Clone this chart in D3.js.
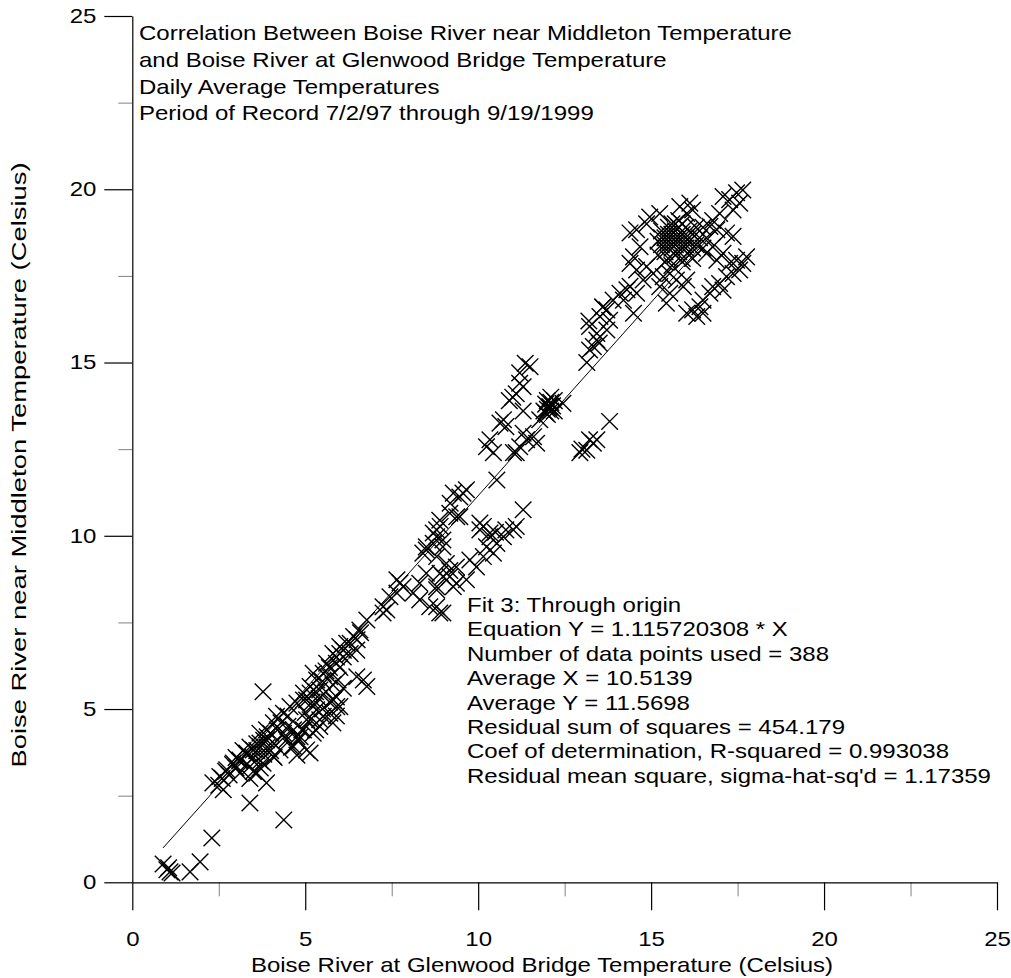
<!DOCTYPE html>
<html><head><meta charset="utf-8">
<script src="https://cdn.jsdelivr.net/npm/d3@7"></script>
<style>
body{margin:0;background:#fff}
text{font-family:"Liberation Sans",Arial,sans-serif;fill:#000}
</style>
</head><body>
<svg id="chart" width="1011" height="978"></svg>
<script>
// ---------- text ----------
const titleLines = [
  "Correlation Between Boise River near Middleton Temperature",
  "and Boise River at Glenwood Bridge Temperature",
  "Daily Average Temperatures",
  "Period of Record 7/2/97 through 9/19/1999"
];
const fitLines = [
  "Fit 3: Through origin",
  "Equation Y = 1.115720308 * X",
  "Number of data points used = 388",
  "Average X = 10.5139",
  "Average Y = 11.5698",
  "Residual sum of squares = 454.179",
  "Coef of determination, R-squared = 0.993038",
  "Residual mean square, sigma-hat-sq'd = 1.17359"
];
const xTitle = "Boise River at Glenwood Bridge Temperature (Celsius)";
const yTitle = "Boise River near Middleton Temperature (Celsius)";

// ---------- axes ----------
const majorTicks = [0, 5, 10, 15, 20, 25];
const minorTicks = [2.5, 7.5, 12.5, 17.5, 22.5];
const fitSlope = 1.115720308;

// ---------- observations [Glenwood X, Middleton Y] ----------
const lowRange = [
  [0.89,0.53],[1.0,0.36],[1.09,0.30],[1.15,0.27],[1.05,0.42],[1.67,0.30],[1.96,0.59],[2.30,1.28],
  [3.40,2.29],[4.38,1.80],[3.78,5.50],
  [2.33,2.87],[2.63,2.67],[2.53,3.05],[2.73,3.25],[2.92,3.44],[3.11,3.53],[3.31,3.73],[3.50,3.82],
  [3.69,4.02],[3.88,4.11],[3.11,3.15],[3.40,3.34],[3.60,3.15],[3.88,2.87],[3.78,3.44],[4.08,3.63],
  [4.27,3.82],[4.46,4.11],[4.66,3.92],[4.85,4.20],[4.66,4.40],[4.76,3.67],
  [2.5,2.8],[2.6,3.0],[2.7,3.2],[2.8,3.1],[2.9,3.4],[3.0,3.3],[3.0,3.6],[3.1,3.5],[3.2,3.8],
  [3.3,3.4],[3.3,3.7],[3.4,3.9],[3.5,3.6],[3.5,3.2],[3.6,3.8],[3.6,4.0],[3.7,3.5],[3.7,3.9],
  [3.8,4.1],[3.8,3.7],[3.9,3.9],[3.9,4.2],[4.0,3.8],[4.0,4.3],[4.1,4.0],[4.2,4.4],[4.3,4.6],
  [4.4,4.2],[4.5,4.8],[4.5,4.5],[3.4,3.0],[3.7,3.3],[4.1,3.6],[4.6,3.9],[4.8,4.1],[4.9,4.4],
  [3.69,4.30],[3.88,4.40],[4.08,4.60],[4.17,4.79],[4.37,4.88],[4.56,5.07],[4.76,5.17],[4.95,5.46],
  [4.95,4.40],[4.76,4.20],[4.37,4.30],[4.95,5.26]
];
const midLowRange = [
  [5.04,5.26],[5.14,5.65],[5.33,5.84],[5.42,5.55],[5.52,6.03],[5.71,5.93],[5.62,6.32],[5.90,6.32],
  [5.80,6.60],[6.10,6.50],[6.00,6.80],[6.20,6.90],[6.49,6.70],[6.40,7.09],[6.58,7.28],[6.78,7.57],
  [7.25,7.77],[5.33,4.98],[5.52,4.79],[5.71,4.88],[5.91,5.07],[5.81,5.26],[5.14,4.69],[5.42,4.50],
  [5.23,4.30],[5.04,3.82],[5.14,3.73],[5.04,4.69],[5.23,5.07],[5.14,5.46],[5.23,6.03],[5.42,4.69],
  [5.80,4.60],[6.00,5.07],[5.90,5.35],[5.95,5.84],[6.10,5.60],[6.49,5.93],[6.68,5.84],[6.78,5.65],
  [6.30,6.90],[6.00,6.60],[7.36,7.86],[7.25,7.95],[7.45,8.24],[7.65,8.73],[7.83,8.53],[7.65,8.35],
  [7.74,8.64],[5.5,5.8],[5.6,6.1],[5.3,5.5],[5.7,6.2],[5.9,6.5],[6.1,6.7],[6.3,6.6],[6.5,7.0],
  [6.6,7.2],[5.2,5.2],[5.4,5.3],[5.6,5.5],[5.8,5.7],[6.0,6.2],[5.5,5.0],[5.7,5.2],[5.9,4.8],
  [5.3,4.4],[5.0,4.9]
];
const middleRange = [
  [8.12,8.35],[8.31,8.63],[8.50,8.92],[8.80,8.53],[8.31,8.15],[8.60,7.95],[8.89,7.77],[8.80,7.95],
  [8.98,7.77],[9.28,8.53],[9.37,8.63],[9.18,8.82],[8.90,8.92],[9.08,9.20],[8.80,9.40],[8.98,9.88],
  [8.70,9.78],[8.50,9.68],[8.40,9.50],[8.80,9.97],[8.50,9.59],[8.98,9.68],[9.18,9.00],[8.98,8.82],
  [9.37,9.10],[8.80,8.44],[8.80,10.17],[8.89,10.45],[8.70,10.08],[8.90,10.27],[9.18,10.65],
  [9.47,10.55],[9.38,10.55],[9.19,10.94],[9.56,11.23],[9.28,11.23],[9.47,11.12],[9.66,11.33],
  [10.05,10.37],[9.66,8.73],[9.76,9.30],[9.95,9.10],[10.15,9.40],[10.24,9.68],[10.34,9.97],
  [10.05,10.17],[10.54,9.78],[10.44,9.50],[10.73,9.97],[11.02,10.17],[11.10,10.27],[10.15,10.27],
  [10.34,10.08],[10.50,10.10],[10.80,10.17],[11.30,10.75],[10.54,11.61],
  [10.24,12.57],[10.34,12.77],[10.44,12.40],[10.63,13.25],[10.73,13.35],[10.80,13.15],[11.00,14.00],
  [11.10,14.10],[11.20,14.40],[11.30,14.30],[11.20,14.70],[11.36,14.98],[11.50,14.88],[11.30,13.60],
  [10.90,13.90],[11.02,12.40],[11.10,12.40],[11.20,12.57],[11.30,12.96],[11.40,12.77],[11.60,12.86],
  [11.69,12.67],[11.78,13.35],
  [11.9,13.6],[11.95,13.8],[12.0,13.5],[12.0,13.9],[12.05,13.7],[12.1,13.6],[12.1,13.85],[12.15,13.75],
  [12.2,13.9],[12.0,13.65],[12.07,13.73],[11.95,13.55],[12.2,13.6],[12.45,13.82],[12.1,14.0]
];
const upperRange = [
  [12.94,12.40],[13.14,12.47],[13.33,12.67],[13.43,12.77],[13.22,12.77],[13.0,12.5],[13.80,13.30],
  [13.14,15.00],[13.33,15.46],[13.50,15.56],[13.22,15.36],[13.43,15.65],[13.43,15.84],[13.22,16.04],
  [13.72,15.94],[13.52,16.33],[13.80,16.22],[13.72,16.52],[13.6,16.6],[13.9,16.8],[14.1,17.0],
  [14.2,16.8],[14.3,17.1],[14.39,17.2],[14.58,17.0],[14.49,16.42],[13.2,16.2]
];
const highRange = [
  [17.47,19.9],[17.65,19.98],[17.27,19.7],[17.08,19.79],[17.56,19.6],[17.37,19.4],[16.98,19.3],
  [16.78,19.1],[16.7,18.93],[16.9,18.83],[17.18,18.74],[17.37,18.64],[16.12,19.6],[16.2,19.4],
  [16.03,19.3],[15.83,19.5],[15.25,19.3],[14.96,19.2],[14.87,19.0],[14.58,18.83],[14.39,18.74],
  [14.68,18.34],[14.49,18.05],[14.39,17.86],[14.58,17.67],[14.87,17.77],[15.06,17.57],[14.77,17.38],
  [15.35,17.48],[15.25,17.19],[15.54,17.57],[15.54,17.0],[15.73,17.38],[16.03,17.38],[15.93,17.19],
  [15.44,16.71],[16.78,18.34],[16.6,18.15],[16.9,17.95],[17.08,18.15],[17.27,17.86],[17.47,17.95],
  [17.65,17.86],[17.56,17.67],[17.76,18.05],[17.37,17.57],[17.18,17.48],[16.98,17.28],[16.78,17.19],
  [17.08,17.09],[16.7,17.0],[16.5,16.8],[16.41,16.61],[16.2,16.52],[16.32,16.33],[16.03,16.42],
  [16.5,16.42],[13.6,16.6],
  [15.2,18.1],[15.3,18.4],[15.3,18.8],[15.4,18.2],[15.4,18.6],[15.5,18.0],[15.5,18.5],[15.5,18.9],
  [15.6,18.3],[15.6,18.7],[15.6,19.0],[15.7,18.1],[15.7,18.5],[15.7,18.8],[15.8,18.2],[15.8,18.6],
  [15.8,19.1],[15.9,18.0],[15.9,18.4],[15.9,18.7],[16.0,18.3],[16.0,18.6],[16.0,18.9],[16.1,18.1],
  [16.1,18.5],[16.2,18.3],[16.2,18.7],[16.3,18.4],[15.4,17.9],[15.6,17.8],[15.9,17.9],[16.2,18.0],
  [15.3,18.6],[15.5,18.7],[15.7,18.4],[16.0,18.4],[15.8,18.9],[15.6,18.5],[15.4,18.4],[16.1,18.8],
  [15.9,19.0],[15.2,18.5],[16.3,18.9],[15.7,19.0],[16.4,18.6],[16.5,18.9],[16.5,18.3],[16.6,18.6]
];
const observations = [].concat(lowRange, midLowRange, middleRange, upperRange, highRange);

// ---------- drawing ----------
const svg = d3.select("#chart");
const x = d3.scaleLinear().domain([0, 25]).range([132.3, 997]);
const y = d3.scaleLinear().domain([0, 25]).range([882.3, 16]);
const SX = 1.2; // horizontal glyph stretch seen in the reference

// minor ticks (grey)
svg.append("g").attr("transform", `translate(0,${y(0)})`)
  .call(d3.axisBottom(x).tickValues(minorTicks).tickSize(14).tickFormat(""))
  .call(g => g.select(".domain").remove())
  .call(g => g.selectAll("line").attr("stroke", "#808080"));
svg.append("g").attr("transform", `translate(${x(0)},0)`)
  .call(d3.axisLeft(y).tickValues(minorTicks).tickSize(14).tickFormat(""))
  .call(g => g.select(".domain").remove())
  .call(g => g.selectAll("line").attr("stroke", "#808080"));

// major axes
const gx = svg.append("g").attr("transform", `translate(0,${y(0)})`)
  .call(d3.axisBottom(x).tickValues(majorTicks).tickSize(28).tickSizeOuter(0).tickPadding(22).tickFormat(d3.format("d")));
const gy = svg.append("g").attr("transform", `translate(${x(0)},0)`)
  .call(d3.axisLeft(y).tickValues(majorTicks).tickSize(28).tickSizeOuter(0).tickPadding(8).tickFormat(d3.format("d")));
[gx, gy].forEach(g => {
  g.select(".domain").attr("stroke", "#000").attr("stroke-width", 1.2);
  g.selectAll(".tick line").attr("stroke", "#000").attr("stroke-width", 1.2);
  g.selectAll(".tick text").attr("font-size", 20).attr("font-family", '"Liberation Sans",Arial,sans-serif').attr("fill", "#000");
});
gx.selectAll(".tick text").attr("transform", `scale(${SX},1)`);
gy.selectAll(".tick text").attr("x", -36 / SX).attr("transform", `scale(${SX},1)`);

// fit line
const xExt = d3.extent(observations, d => d[0]);
svg.append("path")
  .datum(xExt)
  .attr("d", d => d3.line()([[x(d[0]), y(fitSlope * d[0])], [x(d[1]), y(fitSlope * d[1])]]))
  .attr("stroke", "#000").attr("stroke-width", 1).attr("fill", "none");

// X markers
const h = 8.3;
svg.append("g").selectAll("path").data(observations).join("path")
  .attr("d", d => {
    const cx = x(d[0]), cy = y(d[1]);
    return `M${cx - h},${cy - h}L${cx + h},${cy + h}M${cx - h},${cy + h}L${cx + h},${cy - h}`;
  })
  .attr("stroke", "#000").attr("stroke-width", 1.4).attr("fill", "none");

// text helper
function stretched(tx, ty, str, anchor) {
  svg.append("text")
    .attr("transform", `translate(${tx},${ty}) scale(${SX},1)`)
    .attr("text-anchor", anchor || "start")
    .attr("font-size", 20)
    .text(str);
}
titleLines.forEach((t, i) => stretched(139, 40 + i * 26.8, t));
fitLines.forEach((t, i) => stretched(467, 612 + i * 24.4, t));
stretched(542, 972, xTitle, "middle");

svg.append("text")
  .attr("transform", `translate(26,465) rotate(-90) scale(1.37,1)`)
  .attr("text-anchor", "middle")
  .attr("font-size", 20)
  .text(yTitle);
</script>
</body></html>
